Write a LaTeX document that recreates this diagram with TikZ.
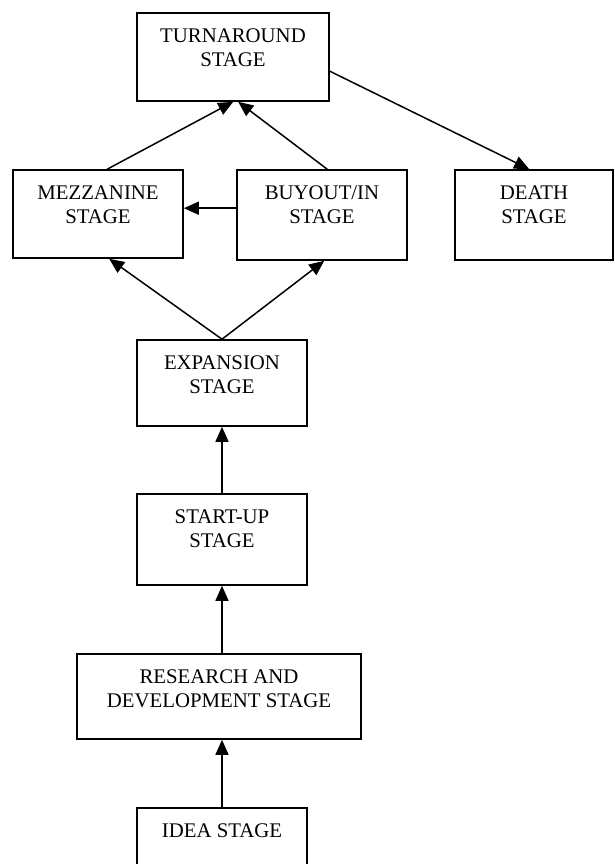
\documentclass[tikz,border=0pt]{standalone}
\usepackage{fontspec}
\setmainfont{Liberation Serif}
\usetikzlibrary{arrows.meta}
\newcommand\stagetext[3]{\parbox[c][#2][t]{#1}{\centering\rule{0pt}{29.5pt}#3\par}}
\tikzset{
  stagebox/.style={draw, line width=1.6pt, inner sep=0pt, font=\fontsize{20.8}{24}\selectfont},
  arr/.style={line width=1.5pt, -{Triangle[length=15pt,width=13pt]}}
}
\begin{document}
\begin{tikzpicture}[x=1pt,y=-1pt]
\useasboundingbox (0,0) rectangle (615,864);
\clip (0,0) rectangle (615,864);
\node[stagebox] (turn) at (233,57) {\stagetext{192pt}{88pt}{TURNAROUND\\STAGE}};
\node[stagebox] (mezz) at (98,214) {\stagetext{170pt}{88pt}{MEZZANINE\\STAGE}};
\node[stagebox] (buy) at (322,215) {\stagetext{170pt}{90pt}{BUYOUT/IN\\STAGE}};
\node[stagebox] (death) at (534,215) {\stagetext{158pt}{90pt}{DEATH\\STAGE}};
\node[stagebox] (exp) at (222,383) {\stagetext{170pt}{86pt}{EXPANSION\\STAGE}};
\node[stagebox] (start) at (222,539.5) {\stagetext{170pt}{91pt}{START-UP\\STAGE}};
\node[stagebox] (res) at (219,696.5) {\stagetext{284pt}{85pt}{RESEARCH AND\\DEVELOPMENT STAGE}};
\node[stagebox] (idea) at (222,852) {\stagetext{170pt}{88pt}{IDEA STAGE}};

\draw[arr] ([xshift=95pt]mezz.north west) -- ([xshift=97pt]turn.south west);
\draw[arr] ([xshift=91pt]buy.north west) -- ([xshift=102pt]turn.south west);
\draw[arr] ([yshift=-39pt]buy.north west) -- ([yshift=-39pt]mezz.north east);
\draw[arr] (exp.north) -- ([xshift=97pt]mezz.south west);
\draw[arr] (exp.north) -- ([xshift=88pt]buy.south west);
\draw[arr] (start.north) -- (exp.south);
\draw[arr] (res.north -| start.south) -- (start.south);
\draw[arr] (idea.north) -- (idea.north |- res.south);
\draw[arr] ([yshift=-59pt]turn.north east) -- ([xshift=75pt]death.north west);
\end{tikzpicture}
\end{document}
